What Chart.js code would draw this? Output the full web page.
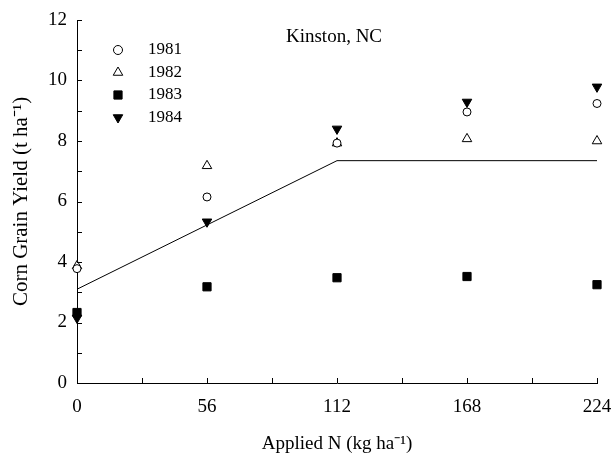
<!DOCTYPE html>
<html>
<head>
<meta charset="utf-8">
<script src="https://cdn.jsdelivr.net/npm/chart.js@4/dist/chart.umd.min.js"></script>
<style>
  html, body { margin: 0; padding: 0; background: #fff; }
</style>
</head>
<body>
<canvas id="chart" width="613" height="457"></canvas>
<script>
// applied N rates (kg/ha) and yields (t/ha)
const nRates = [0, 56, 112, 168, 224]
const yield1981 = [3.78, 6.15, 7.93, 8.96, 9.24]
const yield1982 = [3.87, 7.18, 7.93, 8.07, 8.0]
const yield1983 = [2.33, 3.18, 3.48, 3.52, 3.25]
const yield1984 = [2.15, 5.33, 8.4, 9.29, 9.79]

// linear-plateau fit
const fitN = [0, 112, 224]
const fitYield = [3.1, 7.35, 7.35]

const xTickLabels = [0, 56, 112, 168, 224]
const yTickLabels = [0, 2, 4, 6, 8, 10, 12]

const serif = "'Liberation Serif', 'Times New Roman', serif"
Chart.defaults.font.family = serif
Chart.defaults.font.weight = 'normal'
Chart.defaults.color = '#000'

const toPoints = (xs, ys) => xs.map((x, i) => ({ x: x, y: ys[i] }))

const series = [
  { label: '1981', data: yield1981, pointStyle: 'circle', radius: 4, fill: '#fff', rotation: 0 },
  { label: '1982', data: yield1982, pointStyle: 'triangle', radius: 5.5, fill: '#fff', rotation: 0 },
  { label: '1983', data: yield1983, pointStyle: 'rect', radius: 5.8, fill: '#000', rotation: 0 },
  { label: '1984', data: yield1984, pointStyle: 'triangle', radius: 5.5, fill: '#000', rotation: 180 },
]

const datasets = series.map(s => ({
  label: s.label,
  data: toPoints(nRates, s.data),
  pointStyle: s.pointStyle,
  pointRadius: s.radius,
  pointRotation: s.rotation,
  pointBackgroundColor: s.fill,
  pointBorderColor: '#000',
  pointBorderWidth: 1,
  showLine: false,
  clip: false,
}))

datasets.push({
  label: 'fit',
  data: toPoints(fitN, fitYield),
  showLine: true,
  borderColor: '#000',
  borderWidth: 1,
  pointRadius: 0,
  clip: false,
})

// ticks pointing into the plot
const inwardTicks = {
  id: 'inwardTicks',
  afterDraw(chart) {
    const { ctx, chartArea, scales: { x, y } } = chart
    ctx.save()
    ctx.strokeStyle = '#000'
    ctx.lineWidth = 1
    x.ticks.forEach(t => {
      const px = Math.round(x.getPixelForValue(t.value)) + 0.5
      ctx.beginPath()
      ctx.moveTo(px, chartArea.bottom)
      ctx.lineTo(px, chartArea.bottom - 5)
      ctx.stroke()
    })
    y.ticks.forEach(t => {
      const py = Math.round(y.getPixelForValue(t.value)) + 0.5
      ctx.beginPath()
      ctx.moveTo(chartArea.left, py)
      ctx.lineTo(chartArea.left + 5, py)
      ctx.stroke()
    })
    ctx.restore()
  }
}

// legend block and site name inside the plot
const insideLegend = {
  id: 'insideLegend',
  afterDraw(chart) {
    const { ctx } = chart
    ctx.save()
    ctx.font = '19px ' + serif
    ctx.fillStyle = '#000'
    ctx.textBaseline = 'middle'
    ctx.textAlign = 'center'
    ctx.fillText('Kinston, NC', 334, 37)

    ctx.font = '17px ' + serif
    ctx.textAlign = 'left'
    series.forEach((s, i) => {
      const yy = 50 + i * 22.5
      ctx.fillStyle = s.fill
      ctx.strokeStyle = '#000'
      ctx.lineWidth = 1
      Chart.helpers.drawPoint(ctx, {
        pointStyle: s.pointStyle,
        rotation: s.rotation,
        radius: s.pointStyle === 'circle' ? 4.5 : s.radius,
        borderWidth: 1,
      }, 118, yy)
      ctx.fillStyle = '#000'
      ctx.fillText(s.label, 148, yy)
    })
    ctx.restore()
  }
}

new Chart(document.getElementById('chart'), {
  type: 'scatter',
  data: { datasets: datasets },
  options: {
    responsive: false,
    animation: false,
    layout: { padding: { left: 0, top: 20, right: 16, bottom: 0 } },
    plugins: {
      legend: { display: false },
      tooltip: { enabled: false },
    },
    scales: {
      x: {
        type: 'linear',
        min: 0,
        max: 224,
        afterFit: s => {
          s.height = 74
          s.paddingLeft = 0
          s.paddingRight = 0
        },
        grid: { display: false, drawTicks: false },
        border: { color: '#000', width: 1 },
        ticks: {
          stepSize: 28,
          autoSkip: false,
          maxRotation: 0,
          padding: 13,
          font: { size: 19 },
          callback: v => xTickLabels.includes(v) ? String(v) : '',
        },
        title: {
          display: true,
          text: 'Applied N (kg ha⁻¹)',
          font: { size: 19, weight: 'normal' },
          padding: { top: 0, bottom: 2 },
        },
      },
      y: {
        min: 0,
        max: 12,
        afterFit: s => {
          s.width = 77
          s.paddingTop = 0
          s.paddingBottom = 0
        },
        grid: { display: false, drawTicks: false },
        border: { color: '#000', width: 1 },
        ticks: {
          stepSize: 1,
          autoSkip: false,
          padding: 10,
          font: { size: 19 },
          callback: v => yTickLabels.includes(v) ? String(v) : '',
        },
        title: {
          display: true,
          text: 'Corn Grain Yield (t ha⁻¹)',
          font: { size: 21, weight: 'normal' },
          padding: { top: 9, bottom: 0 },
        },
      },
    },
  },
  plugins: [inwardTicks, insideLegend],
})
</script>
</body>
</html>
